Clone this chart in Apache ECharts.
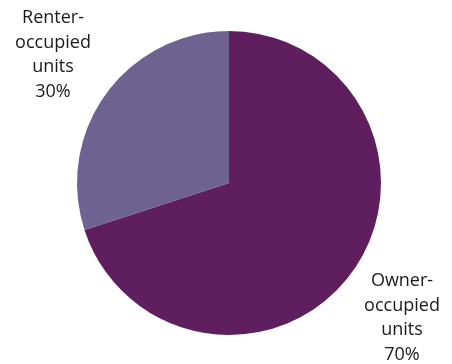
<!DOCTYPE html>
<html>
<head>
<meta charset="utf-8">
<script src="https://cdn.jsdelivr.net/npm/echarts@6/dist/echarts.min.js"></script>
<style>
  html, body { margin: 0; padding: 0; background: #ffffff; }
  #chart { width: 452px; height: 364px; }
</style>
</head>
<body>
<div id="chart"></div>
<script>
// tenure categories and shares (%)
var categories = ['Owner-\noccupied\nunits', 'Renter-\noccupied\nunits'];
var shares = [70, 30];
var colors = ['#5f1f5f', '#6e6290'];
// label anchor points (center of each text block)
var labelPos = [[402, 318], [53, 55]];

var chart = echarts.init(document.getElementById('chart'));

var option = {
  backgroundColor: '#ffffff',
  animation: false,
  series: [
    {
      type: 'pie',
      center: [229, 183],
      radius: [0, 152],
      startAngle: 90,
      clockwise: true,
      data: categories.map(function (name, i) {
        return { name: name, value: shares[i], itemStyle: { color: colors[i] } };
      }),
      label: {
        show: true,
        position: 'outside',
        formatter: '{b}\n{d}%',
        color: '#1a1a1a',
        fontFamily: 'Open Sans',
        fontSize: 18,
        lineHeight: 24.5,
        align: 'center',
        width: 120,
        overflow: 'none'
      },
      labelLine: { show: false },
      labelLayout: function (params) {
        var p = labelPos[params.dataIndex];
        return { x: p[0], y: p[1], align: 'center', verticalAlign: 'middle' };
      },
      emphasis: { disabled: true }
    }
  ]
};

chart.setOption(option);
</script>
</body>
</html>
